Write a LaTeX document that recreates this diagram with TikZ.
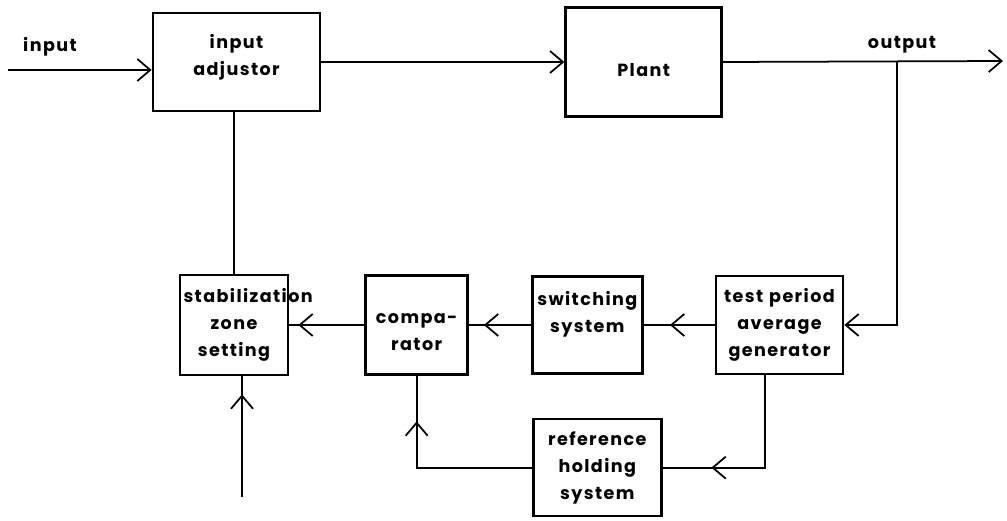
\documentclass[tikz,border=0pt]{standalone}
\usepackage{fontspec}
\setmainfont{Poppins}[LetterSpace=8]
\usetikzlibrary{arrows.meta, positioning, calc, decorations.markings}
\tikzset{
    box/.style={
        rectangle,
        draw=black,
        line width=1.5pt,
        align=center,
        inner sep=2pt,
        font=\fontsize{10}{15.4}\selectfont\bfseries
    },
    tag/.style={
        inner sep=0pt,
        font=\fontsize{10}{15.4}\selectfont\bfseries
    },
    link/.style={line width=1pt},
    arrow/.style={line width=1pt, -{Straight Barb[length=2.6mm,width=4.4mm]}},
    midarrow/.style={
        line width=1pt,
        postaction={decorate},
        decoration={markings,
            mark=at position #1 with {\arrow{Straight Barb[length=2.6mm,width=4.4mm]}}}
    }
}

\begin{document}
\begin{tikzpicture}

        \useasboundingbox (0,0) rectangle (20.14,-10.42);

        \node (adjust) [box, text width=3.20cm, minimum height=1.96cm, text depth=23.6pt] at (4.73,-1.24) {input\\adjustor};
        \node (plant) [box, text width=2.98cm, minimum height=2.18cm, text height=16.5pt, text depth=0pt, right=4.86cm of adjust] {Plant};

        \node (stab) [box, text width=2.02cm, minimum height=2.0cm] at (4.68,-6.5) {stabilization\\zone\\setting};
        \node (comp) [box, text width=1.90cm, minimum height=1.98cm, text height=14pt, right=1.5cm of stab] {compa-\\rator};
        \node (switch) [box, text width=2.06cm, minimum height=1.94cm, text depth=30pt, right=1.24cm of comp] {switching\\system};
        \node (test) [box, text width=2.40cm, minimum height=1.96cm, right=1.42cm of switch] {test period\\average\\generator};
        \node (ref) [box, text width=2.42cm, minimum height=1.94cm, below=0.86cm of switch, xshift=0.2cm] {reference\\holding\\system};

        \node (inlbl) [tag] at (1.0,-0.94) {input};
        \node (outlbl) [tag] at (18.04,-0.90) {output};

        \coordinate (in) at (0.16,-1.40);
        \coordinate (out) at (20.06,-1.22);
        \coordinate (branch) at (17.94,-1.22);
        \coordinate (zone) at (4.84,-9.94);

        \draw [arrow] (in) -- (in -| adjust.west);
        \draw [arrow] (adjust.east) -- (plant.west);
        \draw [arrow] (plant.east) -- (out);
        \draw [arrow] (branch) |- (test.east);

        \draw [midarrow=0.63] (test.west) -- (switch.east);
        \draw [midarrow=0.76] (switch.west) -- (comp.east);
        \draw [midarrow=0.88] (comp.west) -- (stab.east);
        \draw [link] (stab.north) -- (stab.north |- adjust.south);
        \draw [midarrow=0.85] (zone) -- (zone |- stab.south);

        \draw [midarrow=0.85] ($(switch.south west)!0.3!(switch.south east)$) -- ($(switch.south west)!0.3!(switch.south east)$ |- ref.north);
        \draw [midarrow=0.64] ($(switch.south west)!0.78!(switch.south east)$ |- ref.north) -- ($(switch.south west)!0.78!(switch.south east)$);
        \draw [midarrow=0.75] ($(test.south west)!0.39!(test.south east)$) |- (ref.east);
        \draw [midarrow=0.78] (ref.west) -| (comp.south);

    \end{tikzpicture}
\end{document}
